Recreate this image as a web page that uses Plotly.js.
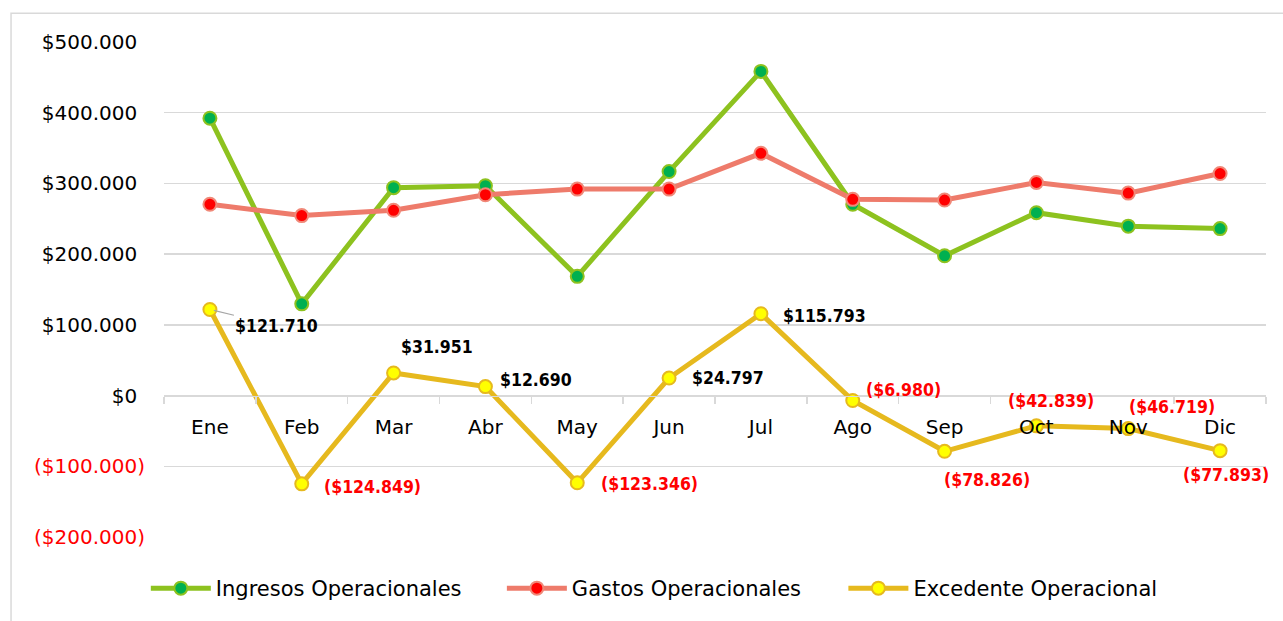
<!DOCTYPE html>
<html>
<head>
<meta charset="utf-8">
<script src="https://cdn.plot.ly/plotly-3.0.1.min.js"></script>
<style>
  html, body { margin: 0; padding: 0; background: #ffffff; }
  #chart { width: 1283px; height: 621px; }
</style>
</head>
<body>
<div id="chart"></div>
<script>
// ---- data ----
const months = ['Ene', 'Feb', 'Mar', 'Abr', 'May', 'Jun', 'Jul', 'Ago', 'Sep', 'Oct', 'Nov', 'Dic'];
const ingresos = [392200, 129700, 294000, 296700, 168600, 316800, 458400, 270500, 197700, 258600, 239600, 236100];
const gastos = [270500, 254500, 262000, 284000, 292000, 292000, 342600, 277500, 276500, 301400, 286300, 314000];
const excedente = [121710, -124849, 31951, 12690, -123346, 24797, 115793, -6980, -78826, -42839, -46719, -77893];
const yTickValues = [-200000, -100000, 0, 100000, 200000, 300000, 400000, 500000];
const seriesNames = ['Ingresos Operacionales', 'Gastos Operacionales', 'Excedente Operacional'];

// ---- helpers ----
function fmt(v) {
  const s = String(Math.abs(v)).replace(/\B(?=(\d{3})+(?!\d))/g, '.');
  return v < 0 ? '($' + s + ')' : '$' + s;
}
const RED = '#ff0000';
const FONT = 'DejaVu Sans, Verdana, sans-serif';
const LABEL_FONT = 'DejaVu Sans Condensed, DejaVu Sans, sans-serif';

const yTickText = yTickValues.map(v => v < 0
  ? '<span style="color:' + RED + '">' + fmt(v) + '</span>'
  : fmt(v) + '<span style="color:rgba(0,0,0,0)">)</span>');

// label offsets (pixels, relative to point; dy positive = downward)
const labelOffsets = [[67, 16], [71, 3], [43, -26], [51, -7], [72, 1], [59, 0], [64, 2], [51, -11], [42, 29], [15, -25], [44, -22], [6, 24]];

const annotations = excedente.map((v, i) => {
  const a = {
    x: months[i], y: v, xref: 'x', yref: 'y',
    text: '<b>' + fmt(v) + '</b>',
    font: { family: LABEL_FONT, size: 17.5, color: v < 0 ? RED : '#000000' },
    xanchor: 'center', yanchor: 'middle'
  };
  if (i === 0) {
    a.showarrow = true; a.arrowhead = 0; a.arrowwidth = 1.2; a.arrowcolor = '#a6a6a6';
    a.ax = labelOffsets[i][0]; a.ay = labelOffsets[i][1]; a.standoff = 4;
  } else {
    a.showarrow = false;
    a.xshift = labelOffsets[i][0]; a.yshift = -labelOffsets[i][1];
  }
  return a;
});

const traces = [
  { y: ingresos, line: '#8dc21f', fill: '#00b050', border: '#8dc21f', legend: 'legend' },
  { y: gastos, line: '#ee7b6b', fill: '#ff0000', border: '#f08878', legend: 'legend2' },
  { y: excedente, line: '#e6b91e', fill: '#ffff00', border: '#e6b91e', legend: 'legend3' }
].map((s, i) => ({
  type: 'scatter', mode: 'lines+markers',
  x: months, y: s.y, name: seriesNames[i],
  line: { color: s.line, width: 5 },
  marker: { color: s.fill, size: 13, line: { color: s.border, width: 2 } },
  cliponaxis: false,
  legend: s.legend,
  hoverinfo: 'skip'
}));

const legendBase = {
  orientation: 'h', yanchor: 'middle', xanchor: 'left', y: -0.104,
  font: { family: FONT, size: 21, color: '#000000' },
  bgcolor: 'rgba(0,0,0,0)', itemwidth: 60, itemclick: false, itemdoubleclick: false
};

const layout = {
  width: 1283, height: 621,
  margin: { l: 164, r: 17, t: 42, b: 81 },
  paper_bgcolor: '#ffffff', plot_bgcolor: '#ffffff',
  font: { family: FONT, size: 20, color: '#000000' },
  showlegend: true,
  legend: Object.assign({}, legendBase, { x: -0.0165 }),
  legend2: Object.assign({}, legendBase, { x: 0.3066 }),
  legend3: Object.assign({}, legendBase, { x: 0.6165 }),
  xaxis: {
    type: 'category', range: [-0.5, 11.5], fixedrange: true,
    anchor: 'free', position: 2 / 7,
    showline: true, linecolor: '#d9d9d9', linewidth: 1.5,
    ticks: 'outside', tickson: 'boundaries', ticklen: 7, tickcolor: '#d9d9d9', tickwidth: 1.5,
    ticklabelstandoff: 13,
    showgrid: false, zeroline: false,
    tickfont: { family: FONT, size: 20, color: '#000000' }
  },
  yaxis: {
    range: [-200000, 500000], fixedrange: true,
    tickmode: 'array', tickvals: yTickValues, ticktext: yTickText,
    showgrid: true, gridcolor: '#d9d9d9', gridwidth: 1.5,
    zeroline: false, showline: false, ticks: '',
    ticklabelstandoff: 18,
    tickfont: { family: FONT, size: 20, color: '#000000' }
  },
  annotations: annotations,
  shapes: [{
    type: 'rect', xref: 'paper', yref: 'paper',
    x0: -0.1388, x1: 1.03, y0: -0.25, y1: 1.0582,
    line: { color: '#d9d9d9', width: 1.5 }, fillcolor: 'rgba(0,0,0,0)', layer: 'below'
  }]
};

Plotly.newPlot('chart', traces, layout, { displayModeBar: false, staticPlot: true });
</script>
</body>
</html>
